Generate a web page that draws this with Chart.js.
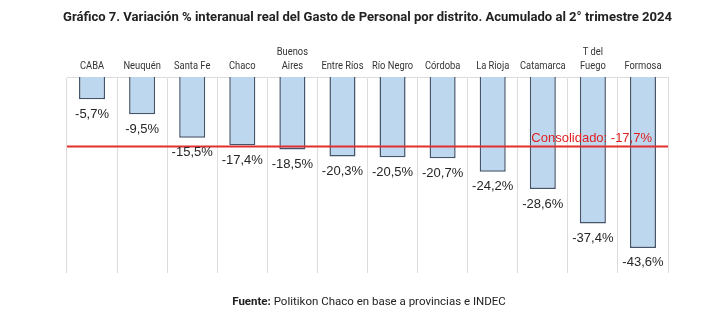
<!DOCTYPE html>
<html>
<head>
<meta charset="utf-8">
<script src="https://cdn.jsdelivr.net/npm/chart.js@4"></script>
<style>
  html, body { margin: 0; padding: 0; background: #fff; }
  canvas { display: block; }
</style>
</head>
<body>
<canvas id="grafico" width="728" height="333"></canvas>
<script>
// Datos del gráfico
const distritos = ['CABA', 'Neuquén', 'Santa Fe', 'Chaco', ['Buenos', 'Aires'], 'Entre Ríos', 'Río Negro', 'Córdoba', 'La Rioja', 'Catamarca', ['T del', 'Fuego'], 'Formosa'];
const variacion = [-5.7, -9.5, -15.5, -17.4, -18.5, -20.3, -20.5, -20.7, -24.2, -28.6, -37.4, -43.6];
const consolidado = -17.7;
const titulo = 'Gráfico 7. Variación % interanual real del Gasto de Personal por distrito. Acumulado al 2° trimestre 2024';
const fuenteNegrita = 'Fuente:';
const fuenteTexto = ' Politikon Chaco en base a provincias e INDEC';

const fmt = v => v.toFixed(1).replace('.', ',') + '%';

// texto comprimido horizontalmente (fuente angosta)
function textoAngosto(ctx, txt, x, y, escala, align) {
    const w = ctx.measureText(txt).width * escala;
    let x0 = x;
    if (align === 'center') x0 = x - w / 2;
    if (align === 'right') x0 = x - w;
    ctx.save();
    ctx.translate(x0, y);
    ctx.scale(escala, 1);
    ctx.textAlign = 'left';
    ctx.fillText(txt, 0, 0);
    ctx.restore();
}

// Etiquetas de valor, línea del consolidado, título y fuente
const extras = {
    id: 'extras',
    afterDatasetsDraw(chart) {
        const ctx = chart.ctx;
        const x = chart.scales.x;
        const y = chart.scales.y;
        const area = chart.chartArea;
        const meta = chart.getDatasetMeta(0);

        // Línea roja del consolidado
        const yc = y.getPixelForValue(consolidado);
        ctx.save();
        ctx.strokeStyle = '#e03030';
        ctx.lineWidth = 2;
        ctx.beginPath();
        ctx.moveTo(area.left, yc);
        ctx.lineTo(area.right, yc);
        ctx.stroke();

        // Valores debajo de cada barra
        ctx.fillStyle = '#262626';
        ctx.font = '13px "Liberation Sans", Arial, sans-serif';
        ctx.textAlign = 'center';
        ctx.textBaseline = 'middle';
        meta.data.forEach((bar, i) => {
            ctx.fillText(fmt(variacion[i]), bar.x, bar.y + 15);
        });

        ctx.fillStyle = '#e02020';
        ctx.textAlign = 'right';
        ctx.textBaseline = 'alphabetic';
        ctx.fillText('Consolidado: ' + fmt(consolidado), area.right - 16, yc - 4);

        // Nombres de los distritos sobre el eje superior
        ctx.fillStyle = '#333';
        ctx.font = '11px Roboto, sans-serif';
        ctx.textBaseline = 'alphabetic';
        distritos.forEach((d, i) => {
            const lineas = Array.isArray(d) ? d : [d];
            const cx = x.getPixelForValue(i);
            lineas.forEach((l, j) => {
                const yl = area.top - 8 - (lineas.length - 1 - j) * 14;
                textoAngosto(ctx, l, cx, yl, 0.85, 'center');
            });
        });
        ctx.restore();
    },
    afterDraw(chart) {
        const ctx = chart.ctx;
        ctx.save();
        ctx.fillStyle = '#222';
        ctx.font = 'bold 13.5px Roboto, sans-serif';
        ctx.textBaseline = 'middle';
        const esc = 609 / ctx.measureText(titulo).width;
        textoAngosto(ctx, titulo, 63, 18, esc, 'left');

        ctx.font = 'bold 11.5px Roboto, sans-serif';
        const w1 = ctx.measureText(fuenteNegrita).width;
        ctx.font = '11.5px Roboto, sans-serif';
        const w2 = ctx.measureText(fuenteTexto).width;
        const x0 = 369 - (w1 + w2) / 2;
        ctx.font = 'bold 11.5px Roboto, sans-serif';
        ctx.fillText(fuenteNegrita, x0, 302);
        ctx.font = '11.5px Roboto, sans-serif';
        ctx.fillText(fuenteTexto, x0 + w1, 302);
        ctx.restore();
    }
};

const ctx = document.getElementById('grafico').getContext('2d');
new Chart(ctx, {
    type: 'bar',
    data: {
        labels: distritos,
        datasets: [{
            data: variacion,
            backgroundColor: '#bdd7ee',
            borderColor: '#44546a',
            borderWidth: 1.5,
            categoryPercentage: 1,
            barPercentage: 0.52
        }]
    },
    options: {
        responsive: false,
        animation: false,
        layout: { padding: { top: 35, left: 67, right: 60, bottom: 60 } },
        plugins: {
            legend: { display: false },
            tooltip: { enabled: false }
        },
        scales: {
            x: {
                position: 'top',
                afterFit: scale => { scale.height = 42; },
                grid: { color: '#dcdcdc', drawTicks: false, offset: true },
                border: { color: '#dcdcdc' },
                ticks: { display: false, autoSkip: false }
            },
            y: {
                display: false,
                min: -50,
                max: 0
            }
        }
    },
    plugins: [extras]
});
</script>
</body>
</html>
